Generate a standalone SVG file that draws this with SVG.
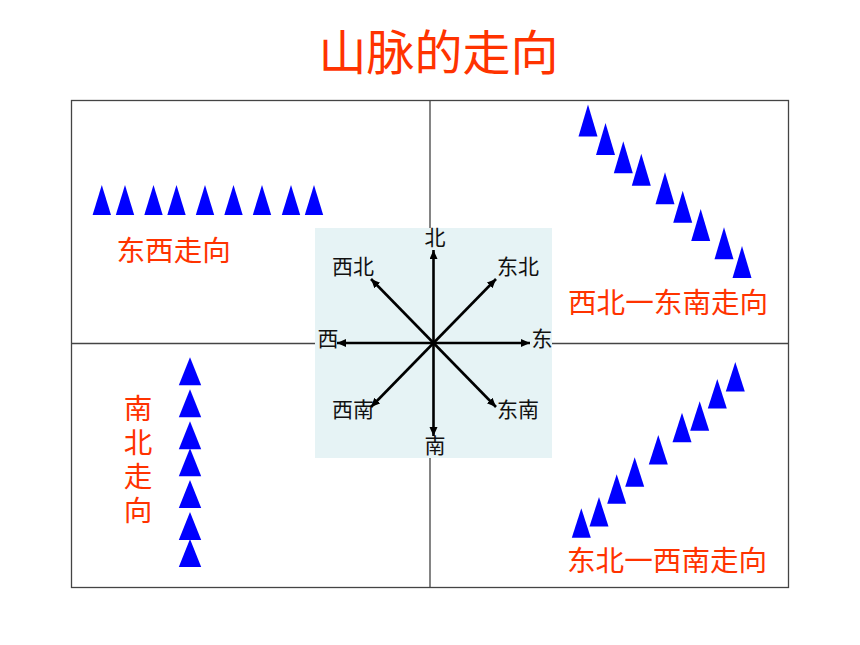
<svg xmlns="http://www.w3.org/2000/svg" width="860" height="645" viewBox="0 0 860 645">
<style>
text{font-family:"Noto Sans CJK SC","Liberation Sans",sans-serif}
.r{fill:#ff3300;font-size:28.6px}
.v{writing-mode:vertical-rl;letter-spacing:5.5px}
.t{fill:#ff3300;font-size:48px;text-anchor:middle}
.k{fill:#111;font-size:21px;text-anchor:middle}
.f{fill:none;stroke:#444;stroke-width:1.3}
.a{stroke:#000;stroke-width:2.6;fill:none;marker-end:url(#ah)}
</style>
<defs>
<marker id="ah" markerUnits="userSpaceOnUse" markerWidth="10" markerHeight="10" refX="9" refY="4" orient="auto"><path d="M0,0L9,4L0,8z" fill="#000"/></marker>
<path id="a" d="M0,0L9.2,30L-9.2,30z" fill="#0000ff"/>
<path id="b" d="M0,0L9.5,32L-9.5,32z" fill="#0000ff"/>
<path id="c" d="M0,0L11.2,28L-11.2,28z" fill="#0000ff"/>
<path id="d" d="M0,0L9.500,29.500L-9.500,29.500z" fill="#0000ff"/>
</defs>
<rect width="860" height="645" fill="#fff"/>
<g id="title"><text class="t" x="438.500" y="70">山脉的走向</text></g>
<g id="frame">
<rect class="f" x="71.500" y="100.500" width="717" height="487"/>
<path class="f" d="M430,100.500V587.500M71.500,343.500H788.500"/>
</g>
<g id="compass">
<rect x="315" y="228" width="237" height="230" fill="#e6f3f5"/>
<text class="k" x="435" y="245">北</text>
<text class="k" x="435" y="453">南</text>
<text class="k" x="328" y="346">西</text>
<text class="k" x="542" y="346">东</text>
<text class="k" x="353" y="274">西北</text>
<text class="k" x="518" y="274">东北</text>
<text class="k" x="353" y="417">西南</text>
<text class="k" x="518" y="417">东南</text>
</g>
<g id="connectors">
<path class="a" d="M433.500,343V250"/>
<path class="a" d="M433.500,343V436"/>
<path class="a" d="M433.500,343H337"/>
<path class="a" d="M433.500,343H530"/>
<path class="a" d="M433.500,343L371,279"/>
<path class="a" d="M433.500,343L496,279"/>
<path class="a" d="M433.500,343L371,407"/>
<path class="a" d="M433.500,343L496,407"/>
</g>
<g id="east-west">
<use href="#a" x="101.800" y="185"/><use href="#a" x="125" y="185"/><use href="#a" x="153.500" y="185"/><use href="#a" x="176.500" y="185"/><use href="#a" x="205" y="185"/><use href="#a" x="233.500" y="185"/><use href="#a" x="262" y="185"/><use href="#a" x="291" y="185"/><use href="#a" x="314" y="185"/>
<text class="r" x="116.500" y="261">东西走向</text>
</g>
<g id="northwest-southeast">
<use href="#b" x="588" y="104.500"/><use href="#b" x="605.500" y="123"/><use href="#b" x="623.300" y="141.300"/><use href="#b" x="641.300" y="153.700"/><use href="#b" x="665" y="172.300"/><use href="#b" x="682.700" y="190.700"/><use href="#b" x="700.700" y="209"/><use href="#b" x="724" y="227.300"/><use href="#b" x="742" y="246"/>
<text class="r" x="568" y="313">西北一东南走向</text>
</g>
<g id="south-north">
<use href="#c" x="190" y="357.300"/><use href="#c" x="190" y="389.300"/><use href="#c" x="190" y="421.300"/><use href="#c" x="190" y="448.300"/><use href="#c" x="190" y="480"/><use href="#c" x="190" y="512"/><use href="#c" x="190" y="539"/>
<text class="r v" x="138" y="394">南北走向</text>
</g>
<g id="northeast-southwest">
<use href="#d" x="581.300" y="508.300"/><use href="#d" x="599" y="497"/><use href="#d" x="616.700" y="474.300"/><use href="#d" x="634.700" y="457.300"/><use href="#d" x="658.300" y="435"/><use href="#d" x="682" y="412.700"/><use href="#d" x="699.700" y="401.300"/><use href="#d" x="717.300" y="379"/><use href="#d" x="735.300" y="362"/>
<text class="r" x="567" y="571">东北一西南走向</text>
</g>
</svg>
